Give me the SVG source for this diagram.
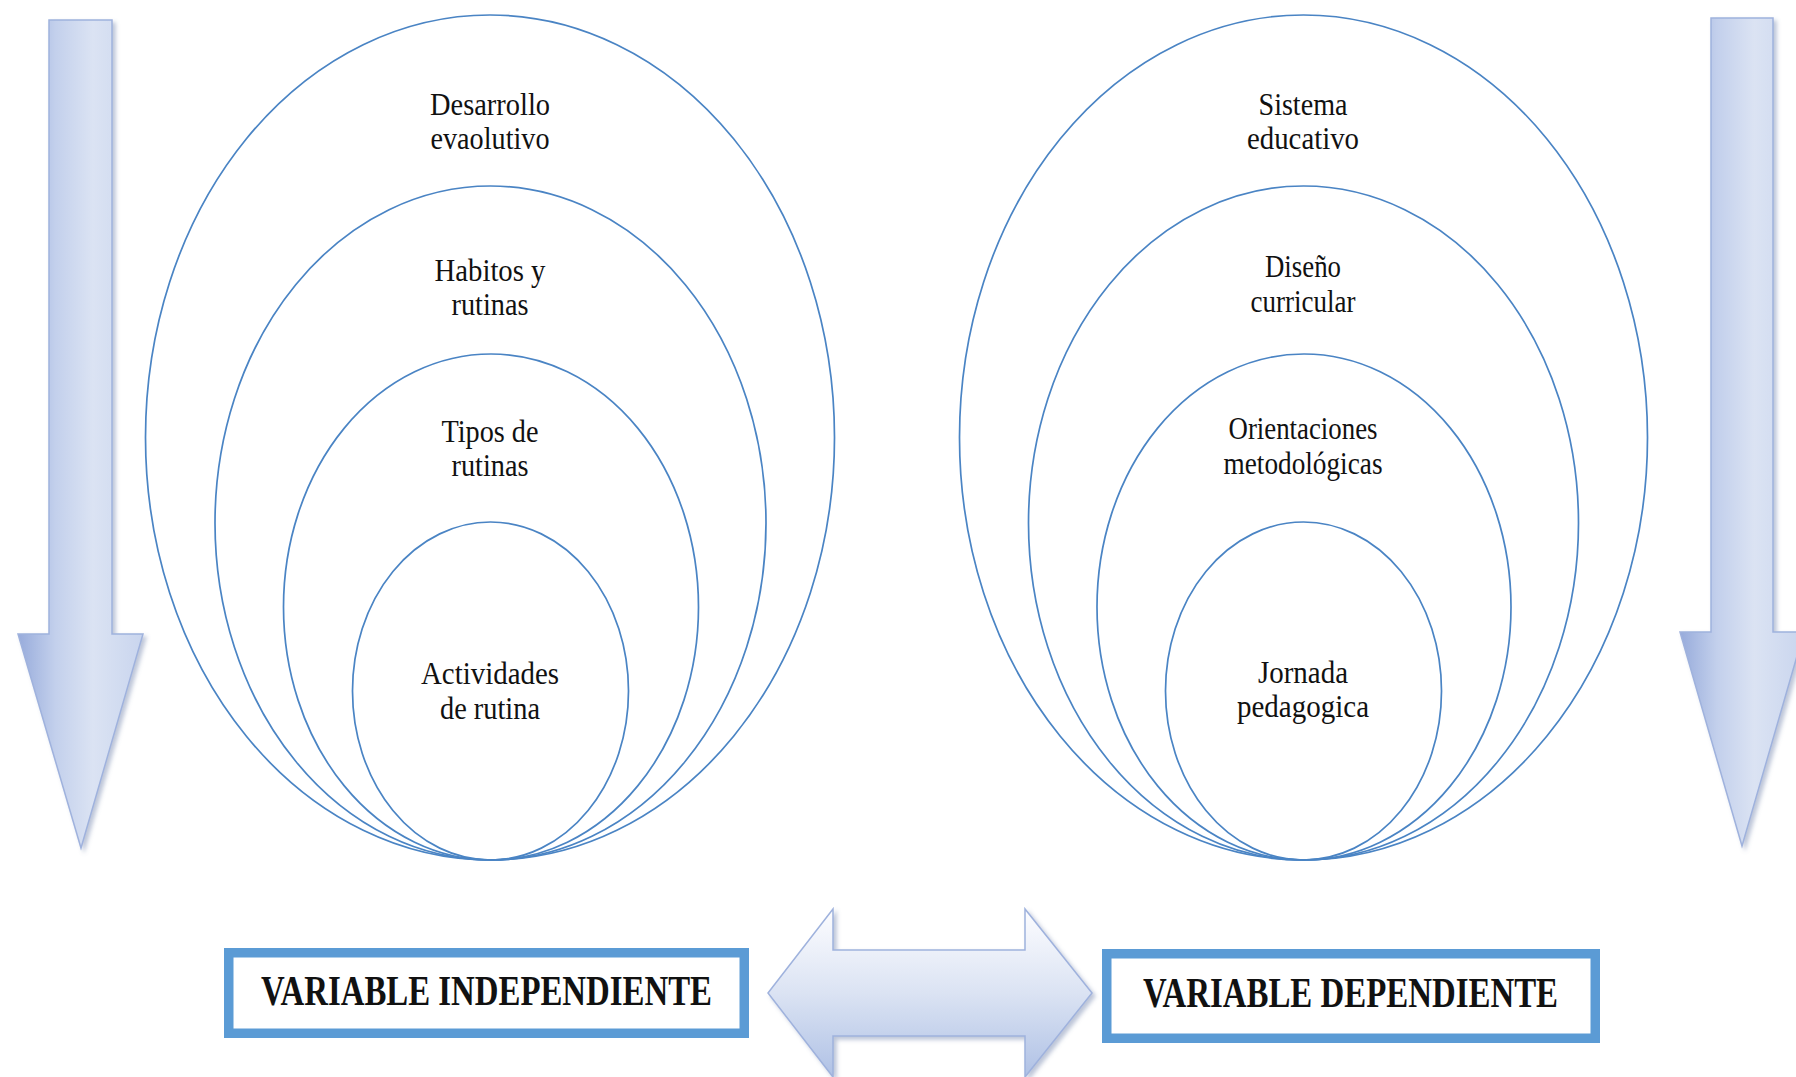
<svg xmlns="http://www.w3.org/2000/svg" width="1796" height="1077" viewBox="0 0 1796 1077">
<defs>
<style>
.ell{fill:none;stroke:#4a84c4;stroke-width:1.7}
.lbl{font-family:"Liberation Serif","Times New Roman",serif;font-size:31px;fill:#111;text-anchor:middle}
.box{fill:#fff;stroke:#5b9bd5;stroke-width:9.5}
.boxt{font-family:"Liberation Serif","Times New Roman",serif;font-size:42px;font-weight:bold;fill:#111;text-anchor:middle}
.varr{stroke:#9fb2dd;stroke-width:1.5;filter:url(#sh)}
</style>
<linearGradient id="gL" gradientUnits="objectBoundingBox" x1="0" y1="0" x2="1" y2="0">
<stop offset="0" stop-color="#97abdb"/>
<stop offset="0.3" stop-color="#c3d0ec"/>
<stop offset="0.6" stop-color="#dbe3f3"/>
<stop offset="1" stop-color="#c9d5ee"/>
</linearGradient>
<linearGradient id="gD" x1="0" y1="0" x2="0" y2="1">
<stop offset="0" stop-color="#fdfdff"/>
<stop offset="0.5" stop-color="#dbe3f3"/>
<stop offset="1" stop-color="#afc1e5"/>
</linearGradient>
<filter id="sh" x="-20%" y="-10%" width="150%" height="130%">
<feDropShadow dx="3" dy="3" stdDeviation="2" flood-color="#6a7fa8" flood-opacity="0.45"/>
</filter>
</defs>
<rect width="1796" height="1077" fill="#fff"/>

<g id="arrow-left">
<path class="varr" fill="url(#gL)" d="M49,20 H112 V634 H143 L81,848 L18,634 H49 Z"/>
</g>
<g id="arrow-right">
<path class="varr" fill="url(#gL)" d="M1711,18 H1773 V632 H1804 L1742,846 L1680,632 H1711 Z"/>
</g>

<g id="node-desarrollo-evolutivo">
<ellipse class="ell" cx="490" cy="437.5" rx="344.5" ry="422.5"/>
<text class="lbl" x="490" y="115" textLength="120" lengthAdjust="spacingAndGlyphs">Desarrollo</text>
<text class="lbl" x="490" y="149" textLength="119" lengthAdjust="spacingAndGlyphs">evaolutivo</text>
</g>
<g id="node-habitos-rutinas">
<ellipse class="ell" cx="490.5" cy="523" rx="275.5" ry="337"/>
<text class="lbl" x="490" y="281" textLength="111" lengthAdjust="spacingAndGlyphs">Habitos y</text>
<text class="lbl" x="490" y="315" textLength="77" lengthAdjust="spacingAndGlyphs">rutinas</text>
</g>
<g id="node-tipos-rutinas">
<ellipse class="ell" cx="491" cy="607" rx="207.5" ry="253"/>
<text class="lbl" x="490" y="442" textLength="97" lengthAdjust="spacingAndGlyphs">Tipos de</text>
<text class="lbl" x="490" y="476" textLength="77" lengthAdjust="spacingAndGlyphs">rutinas</text>
</g>
<g id="node-actividades-rutina">
<ellipse class="ell" cx="490.5" cy="691" rx="138" ry="169"/>
<text class="lbl" x="490" y="684" textLength="138" lengthAdjust="spacingAndGlyphs">Actividades</text>
<text class="lbl" x="490" y="719" textLength="100" lengthAdjust="spacingAndGlyphs">de rutina</text>
</g>

<g id="node-sistema-educativo">
<ellipse class="ell" cx="1303.5" cy="437.5" rx="344" ry="422.5"/>
<text class="lbl" x="1303" y="115" textLength="89" lengthAdjust="spacingAndGlyphs">Sistema</text>
<text class="lbl" x="1303" y="149" textLength="112" lengthAdjust="spacingAndGlyphs">educativo</text>
</g>
<g id="node-diseno-curricular">
<ellipse class="ell" cx="1303.5" cy="523" rx="275" ry="337"/>
<text class="lbl" x="1303" y="277" textLength="76" lengthAdjust="spacingAndGlyphs">Diseño</text>
<text class="lbl" x="1303" y="312" textLength="105" lengthAdjust="spacingAndGlyphs">curricular</text>
</g>
<g id="node-orientaciones">
<ellipse class="ell" cx="1304" cy="607" rx="207" ry="253"/>
<text class="lbl" x="1303" y="439" textLength="149" lengthAdjust="spacingAndGlyphs">Orientaciones</text>
<text class="lbl" x="1303" y="474" textLength="159" lengthAdjust="spacingAndGlyphs">metodológicas</text>
</g>
<g id="node-jornada">
<ellipse class="ell" cx="1303.5" cy="691" rx="138" ry="169"/>
<text class="lbl" x="1303" y="683" textLength="90" lengthAdjust="spacingAndGlyphs">Jornada</text>
<text class="lbl" x="1303" y="717" textLength="132" lengthAdjust="spacingAndGlyphs">pedagogica</text>
</g>

<g id="node-variable-independiente">
<rect class="box" x="228.75" y="952.75" width="515.5" height="80.5"/>
<text class="boxt" x="486.5" y="1005" textLength="451" lengthAdjust="spacingAndGlyphs">VARIABLE INDEPENDIENTE</text>
</g>
<g id="node-variable-dependiente">
<rect class="box" x="1106.75" y="953.75" width="488.5" height="84.5"/>
<text class="boxt" x="1350.5" y="1007" textLength="415" lengthAdjust="spacingAndGlyphs">VARIABLE DEPENDIENTE</text>
</g>

<g id="connectors">
<path fill="url(#gD)" stroke="#9fb2dd" stroke-width="1.5" filter="url(#sh)" d="M768,993 L833,909 V950 H1025 V909 L1092,993 L1025,1077 V1036 H833 V1077 Z"/>
</g>
</svg>
